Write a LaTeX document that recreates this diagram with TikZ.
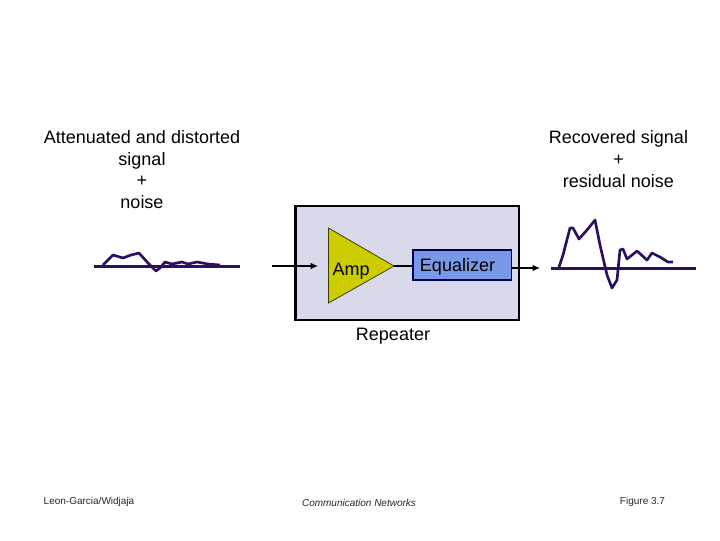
\documentclass[tikz,border=0pt]{standalone}
\usepackage{fontspec}
\setmainfont{Liberation Sans}
\usetikzlibrary{arrows.meta}
\definecolor{sig}{RGB}{45,15,95}
\definecolor{boxfill}{RGB}{216,218,236}
\definecolor{ampfill}{RGB}{204,204,0}
\definecolor{eqfill}{RGB}{122,152,232}
\tikzset{
  lab/.style={font=\fontsize{13.5pt}{16.2pt}\selectfont, align=center, text=black, inner sep=0pt},
  foot/.style={font=\fontsize{7.5pt}{9pt}\selectfont, text=black!85, inner sep=0pt},
  signal/.style={draw=sig, line width=2pt, line join=round},
  base/.style={draw=sig, line width=2.2pt},
  conn/.style={draw=black, line width=0.9pt},
  arrowconn/.style={conn, -{Latex[length=5.5pt,width=5pt]}}
}
\begin{document}
\begin{tikzpicture}[x=0.75pt,y=-0.75pt]
\useasboundingbox (0,0) rectangle (720,540);
\node[lab] (leftlab) at (142,169.7) {Attenuated and distorted\\signal\\+\\noise};
\node[lab] (rightlab) at (618.5,159) {Recovered signal\\+\\residual noise};
\node[draw=black, line width=2pt, fill=boxfill, minimum width=167.5pt, minimum height=85.5pt, inner sep=0pt] (rep) at (407.2,263) {};
\coordinate (t1) at (328.5,228);
\coordinate (t2) at (394,266);
\coordinate (t3) at (328.5,303);
\draw[draw=black!70!ampfill, line width=0.6pt, fill=ampfill] (t1) -- (t2) -- (t3) -- cycle;
\node[lab] (amp) at (351,271) {Amp};
\node[draw=black!50!blue!60!black, line width=1.2pt, fill=eqfill, minimum width=73.8pt, minimum height=22.5pt, inner sep=0pt] (eq) at (462.3,265) {};
\node[lab] (eqlab) at (457.5,266.5) {Equalizer};
\node[lab] (replab) at (393,336) {Repeater};
\coordinate (in) at (272,266);
\coordinate (inend) at (318,266);
\coordinate (out) at (540,268);
\coordinate (eqr) at (eq.east |- out);
\draw[arrowconn] (in) -- (inend);
\draw[conn] (t2) -- (eq.west |- t2);
\draw[arrowconn] (eqr) -- (out);
% left signal
\coordinate (lb1) at (94,266.5);
\coordinate (lb2) at (240,266.5);
\draw[base] (lb1) -- (lb2);
\draw[signal] (103,265) -- (113,255) -- (123,258) -- (131,255) -- (139,253) -- (148,263) -- (156,271) -- (160,268) -- (165,262) -- (172,264) -- (182,262) -- (188,264) -- (197,262) -- (208,264) -- (220,265);
% right signal
\coordinate (rb1) at (551,268.4);
\coordinate (rb2) at (696,268.4);
\draw[base] (rb1) -- (rb2);
\draw[signal] (559,267) -- (563,255) -- (570,228) -- (573,228) -- (579,239) -- (587,230) -- (595,220) -- (600,245) -- (607,275) -- (612,288) -- (617,280) -- (620,250) -- (623,249) -- (627,259) -- (637,251) -- (647,260) -- (652,253) -- (660,257) -- (668,262) -- (673,262);
\node[foot] (f1) at (89,502) {Leon-Garcia/Widjaja};
\node[foot, font=\fontsize{7.5pt}{9pt}\selectfont\itshape] (f2) at (359,503) {Communication Networks};
\node[foot] (f3) at (642.5,502) {Figure 3.7};
\end{tikzpicture}
\end{document}
